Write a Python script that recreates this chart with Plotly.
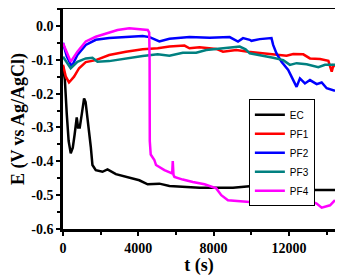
import plotly.graph_objects as go

# ---- data ----
t_ec = [0, 100, 200, 300, 410, 520, 620, 677, 730, 800, 890, 1000, 1120, 1200, 1300, 1476, 1564, 1742, 2098, 2364,
        2809, 3342, 4053, 4498, 4942, 5120, 5653, 7253, 9031, 10631, 10987, 11253, 11787, 11911, 12409, 13298, 14450]
e_ec = [-0.12, -0.16, -0.26, -0.34, -0.376, -0.36, -0.32, -0.29, -0.27, -0.30, -0.30, -0.26, -0.214, -0.225, -0.268,
        -0.357, -0.411, -0.426, -0.431, -0.424, -0.438, -0.446, -0.456, -0.468, -0.466, -0.466, -0.473, -0.478, -0.478,
        -0.470, -0.451, -0.446, -0.446, -0.470, -0.477, -0.485, -0.485]

t_pf1 = [0, 150, 320, 587, 853, 1209, 1742, 2453, 3342, 4231, 5031, 5653, 6453, 6720, 7253, 8142, 8498, 9209, 9831,
         10453, 11164, 11876, 12231, 12764, 13120, 13653, 14098, 14276, 14364, 14450]
e_pf1 = [-0.115, -0.15, -0.167, -0.150, -0.125, -0.107, -0.101, -0.086, -0.076, -0.069, -0.066, -0.061, -0.058, -0.066,
         -0.063, -0.068, -0.076, -0.071, -0.076, -0.079, -0.084, -0.088, -0.083, -0.084, -0.096, -0.098, -0.103, -0.135,
         -0.117, -0.120]

t_pf2 = [0, 200, 463, 765, 1209, 1742, 2453, 3342, 4231, 4600, 4853, 5120, 5653, 6720, 7787, 8853, 9298, 9564, 9920,
         10009, 10453, 11076, 11164, 11342, 11609, 11964, 12231, 12409, 12587, 12853, 13120, 13476, 13742, 14009, 14450]
e_pf2 = [-0.05, -0.09, -0.120, -0.086, -0.056, -0.041, -0.036, -0.033, -0.030, -0.033, -0.039, -0.046, -0.038, -0.033,
         -0.035, -0.033, -0.046, -0.036, -0.041, -0.044, -0.039, -0.036, -0.056, -0.081, -0.106, -0.130, -0.160, -0.180,
         -0.155, -0.170, -0.160, -0.172, -0.167, -0.184, -0.192]

t_pf3 = [0, 410, 765, 1209, 1564, 1831, 2453, 3342, 4231, 5031, 5653, 6364, 7076, 7609, 8320, 9031, 9387, 9700, 9920,
         10453, 11164, 11698, 12053, 12409, 12942, 13564, 13920, 14450]
e_pf3 = [-0.091, -0.125, -0.106, -0.096, -0.094, -0.106, -0.104, -0.096, -0.089, -0.084, -0.088, -0.079, -0.079, -0.071,
         -0.066, -0.063, -0.061, -0.069, -0.081, -0.086, -0.094, -0.101, -0.115, -0.110, -0.113, -0.122, -0.115, -0.115]

t_pf4 = [0, 410, 765, 1209, 1742, 2276, 2898, 3520, 4053, 4500, 4580, 4600, 4610, 4660, 4853, 4942, 5387, 5742, 5800,
         5831, 5870, 5920, 6364, 6897, 7520, 8142, 8409, 8764, 9920, 10631, 11342, 12053, 12587, 13120, 13476, 13742,
         14186, 14450]
e_pf4 = [-0.051, -0.106, -0.076, -0.046, -0.032, -0.022, -0.012, -0.007, -0.009, -0.012, -0.02, -0.10, -0.34, -0.38,
         -0.396, -0.411, -0.426, -0.436, -0.436, -0.399, -0.440, -0.446, -0.454, -0.461, -0.468, -0.480, -0.500, -0.515,
         -0.520, -0.527, -0.525, -0.520, -0.513, -0.517, -0.525, -0.537, -0.530, -0.515]

names = ["EC", "PF1", "PF2", "PF3", "PF4"]
colors = ["#000000", "#ff0000", "#0000ff", "#008080", "#ff00ff"]

x_tickvals = [0, 4000, 8000, 12000]
x_ticktext = ["0", "4000", "8000", "12000"]
y_tickvals = [0.0, -0.1, -0.2, -0.3, -0.4, -0.5, -0.6]
y_ticktext = ["0.0", "-0.1", "-0.2", "-0.3", "-0.4", "-0.5", "-0.6"]

series = [(t_ec, e_ec), (t_pf1, e_pf1), (t_pf2, e_pf2), (t_pf3, e_pf3), (t_pf4, e_pf4)]

fig = go.Figure()
for (tx, ey), nm, col in zip(series, names, colors):
    fig.add_trace(go.Scatter(x=tx, y=ey, mode="lines", name=nm,
                             line=dict(color=col, width=2.5)))

serif = "Liberation Serif"
axis_common = dict(showline=True, linecolor="black", linewidth=2.5, mirror=True,
                   ticks="outside", ticklen=4, tickwidth=2, tickcolor="black",
                   showgrid=False, zeroline=False,
                   tickfont=dict(family=serif, size=14, color="black", weight="bold"))

# the page body has an 8px default margin, so the figure is 8px smaller
fig.update_layout(
    width=335, height=268,
    margin=dict(l=55, r=8, t=1, b=47, autoexpand=False),
    paper_bgcolor="white", plot_bgcolor="white",
    xaxis=dict(range=[0, 14450], tickvals=x_tickvals, ticktext=x_ticktext,
               minor=dict(dtick=2000, tick0=0, ticks="outside", ticklen=3, tickwidth=2, tickcolor="black"),
               title=dict(text="t (s)", font=dict(family=serif, size=18, color="black", weight="bold"), standoff=0),
               automargin=False, **axis_common),
    yaxis=dict(range=[-0.6, 0.05], tickvals=y_tickvals, ticktext=y_ticktext,
               minor=dict(dtick=0.05, tick0=0, ticks="outside", ticklen=3, tickwidth=2, tickcolor="black"),
               title=dict(text="E (V vs Ag/AgCl)", font=dict(family=serif, size=18, color="black", weight="bold"), standoff=8),
               automargin=False, **axis_common),
    legend=dict(x=0.926, y=0.59, xanchor="right", yanchor="top",
                bgcolor="white", bordercolor="black", borderwidth=1,
                font=dict(family="Liberation Sans", size=10, color="black"),
                itemwidth=30, tracegroupgap=0),
    showlegend=True,
)

fig.write_html("out.html")
